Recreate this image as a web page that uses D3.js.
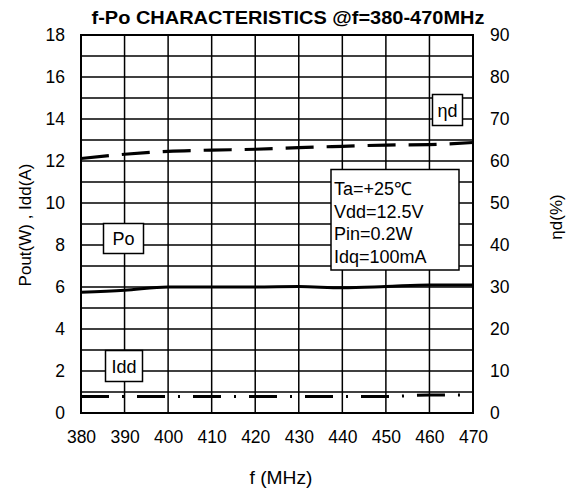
<!DOCTYPE html>
<html><head><meta charset="utf-8">
<script src="https://cdn.jsdelivr.net/npm/d3@7"></script>
<style>
body{margin:0;background:#fff;}
svg{display:block;font-family:"Liberation Sans",Arial,sans-serif;}
</style></head>
<body><svg id="c" width="576" height="497"></svg>
<script>
const freq = [380,390,400,410,420,430,440,450,460,470];
const po   = [5.75,5.85,6.0,6.0,6.0,6.02,5.96,6.02,6.1,6.1];
const idd  = [0.78,0.78,0.78,0.78,0.78,0.78,0.78,0.78,0.86,0.86];
const eta  = [60.6,61.6,62.3,62.6,62.8,63.2,63.5,63.8,63.9,64.4];
const xTicks = [380,390,400,410,420,430,440,450,460,470];
const yLeftTicks = [0,2,4,6,8,10,12,14,16,18];
const yRightTicks = [0,10,20,30,40,50,60,70,80,90];
const conditions = ["Ta=+25\u2103","Vdd=12.5V","Pin=0.2W","Idq=100mA"];
const title = "f-Po CHARACTERISTICS  @f=380-470MHz";

const svg = d3.select("#c");
const L=81,R=473,T=35,B=413;
const x = d3.scaleLinear().domain([380,470]).range([L,R]);
const yL = d3.scaleLinear().domain([0,18]).range([B,T]);
const yR = d3.scaleLinear().domain([0,90]).range([B,T]);

// grid
const g = svg.append("g");
g.selectAll(".h").data(d3.range(0,19)).join("line")
  .attr("x1",L).attr("x2",R).attr("y1",d=>yL(d)).attr("y2",d=>yL(d))
  .attr("stroke","#000").attr("stroke-width",1.5);
g.selectAll(".v").data(xTicks).join("line")
  .attr("y1",T).attr("y2",B).attr("x1",d=>x(d)).attr("x2",d=>x(d))
  .attr("stroke","#000").attr("stroke-width",1.5);

// axes
const fs = "17.5px";
const ax = svg.append("g").attr("transform",`translate(0,${B})`)
  .call(d3.axisBottom(x).tickValues(xTicks).tickSize(0).tickPadding(17.5).tickFormat(d3.format("d")));
const ayl = svg.append("g").attr("transform",`translate(${L},0)`)
  .call(d3.axisLeft(yL).tickValues(yLeftTicks).tickSize(0).tickPadding(16).tickFormat(d3.format("d")));
const ayr = svg.append("g").attr("transform",`translate(${R},0)`)
  .call(d3.axisRight(yR).tickValues(yRightTicks).tickSize(0).tickPadding(17).tickFormat(d3.format("d")));
[ax,ayl,ayr].forEach(a=>{a.select(".domain").remove();
  a.selectAll("text").attr("font-size",fs).attr("font-family","Liberation Sans, Arial").attr("fill","#000");});

// lines
const lineL = d3.line().x((d,i)=>x(freq[i])).y(d=>yL(d)).curve(d3.curveMonotoneX);
const lineR = d3.line().x((d,i)=>x(freq[i])).y(d=>yR(d)).curve(d3.curveMonotoneX);
svg.append("path").attr("d",lineL(po)).attr("fill","none").attr("stroke","#000").attr("stroke-width",3);
svg.append("path").attr("d",lineL(idd)).attr("fill","none").attr("stroke","#000").attr("stroke-width",3)
  .attr("stroke-dasharray","28,13,2,13");
svg.append("path").attr("d",lineR(eta)).attr("fill","none").attr("stroke","#000").attr("stroke-width",3.2)
  .attr("stroke-dasharray","28,13");

// border
svg.append("rect").attr("x",L).attr("y",T).attr("width",R-L).attr("height",B-T)
  .attr("fill","none").attr("stroke","#000").attr("stroke-width",2);

// label boxes
function box(x0,y0,w,h,txt){
  svg.append("rect").attr("x",x0).attr("y",y0).attr("width",w).attr("height",h)
    .attr("fill","#fff").attr("stroke","#000").attr("stroke-width",1.5);
  svg.append("text").attr("x",x0+w/2).attr("y",y0+h/2+6.5).attr("text-anchor","middle")
    .attr("font-size","18px").text(txt);
}
box(103.5,223.5,40,30,"Po");
box(105.5,350.5,37,31,"Idd");
box(432.5,94.5,30,31,"\u03b7d");

// conditions box
svg.append("rect").attr("x",331).attr("y",169.5).attr("width",128).attr("height",100.5)
  .attr("fill","#fff").attr("stroke","#000").attr("stroke-width",1.5);
svg.append("g").selectAll("text").data(conditions).join("text")
  .attr("x",334).attr("y",(d,i)=>195+i*22.5).attr("font-size","18px").text(d=>d);

// titles
svg.append("text").attr("x",288).attr("y",23.5).attr("text-anchor","middle")
  .attr("font-size","18px").attr("font-weight","bold")
  .attr("textLength",393).attr("lengthAdjust","spacingAndGlyphs").text(title);
svg.append("text").attr("x",281).attr("y",484).attr("text-anchor","middle")
  .attr("font-size","18px").attr("textLength",63).attr("lengthAdjust","spacingAndGlyphs").text("f (MHz)");
svg.append("text").attr("transform","translate(31,225) rotate(-90)").attr("text-anchor","middle")
  .attr("font-size","17px").text("Pout(W) , Idd(A)");
svg.append("text").attr("transform","translate(562,217) rotate(-90)").attr("text-anchor","middle")
  .attr("font-size","17px").text("\u03b7d(%)");
</script></body></html>
